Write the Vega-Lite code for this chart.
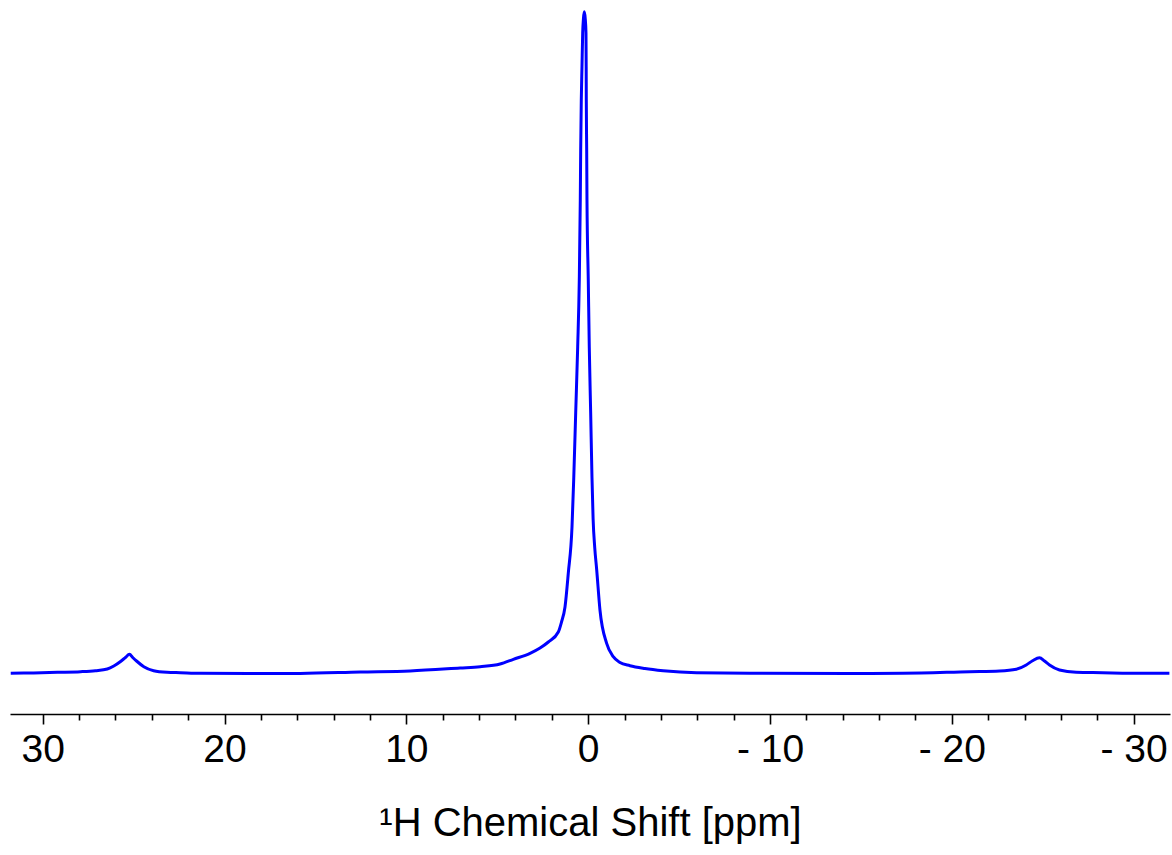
{
  "$schema": "https://vega.github.io/schema/vega-lite/v6.json",
  "width": 1160,
  "height": 704,
  "autosize": {"type": "none"},
  "padding": {"left": 10, "top": 10, "right": 2, "bottom": 141},
  "background": "white",
  "config": {"view": {"stroke": null}},
  "data": {
    "values": [
      {"ppm": 31.76, "I": 0.2}, {"ppm": 30.5, "I": 0.6}, {"ppm": 29.19, "I": 1.2},
      {"ppm": 27.92, "I": 1.8}, {"ppm": 27.1, "I": 2.8}, {"ppm": 26.45, "I": 4.5},
      {"ppm": 26.09, "I": 7.5}, {"ppm": 25.72, "I": 12}, {"ppm": 25.45, "I": 16},
      {"ppm": 25.23, "I": 19.2}, {"ppm": 25.05, "I": 16}, {"ppm": 24.84, "I": 12.5},
      {"ppm": 24.44, "I": 6.8}, {"ppm": 23.9, "I": 2.8}, {"ppm": 23.16, "I": 1.2},
      {"ppm": 22.43, "I": 0.8}, {"ppm": 21.33, "I": 0.2}, {"ppm": 18.58, "I": 0},
      {"ppm": 15.83, "I": 0.1}, {"ppm": 12.538, "I": 1.5}, {"ppm": 9.791, "I": 2.5},
      {"ppm": 7.044, "I": 5.5}, {"ppm": 5.945, "I": 6.8}, {"ppm": 4.846, "I": 9.5},
      {"ppm": 4.115, "I": 14.2}, {"ppm": 3.198, "I": 20.2}, {"ppm": 2.648, "I": 25.5},
      {"ppm": 2.192, "I": 31.5}, {"ppm": 1.643, "I": 41.5}, {"ppm": 1.467, "I": 51.5},
      {"ppm": 1.275, "I": 66.5}, {"ppm": 1.093, "I": 100.5}, {"ppm": 0.89, "I": 146.5},
      {"ppm": 0.797, "I": 193.5}, {"ppm": 0.687, "I": 260.5}, {"ppm": 0.577, "I": 326.8},
      {"ppm": 0.489, "I": 393.5}, {"ppm": 0.434, "I": 473.5}, {"ppm": 0.412, "I": 523.5},
      {"ppm": 0.379, "I": 573.5}, {"ppm": 0.341, "I": 606.8}, {"ppm": 0.302, "I": 640.5},
      {"ppm": 0.258, "I": 655.5}, {"ppm": 0.214, "I": 661.8}, {"ppm": 0.165, "I": 655.5},
      {"ppm": 0.121, "I": 640.5}, {"ppm": 0.11, "I": 606.8}, {"ppm": 0.104, "I": 573.5},
      {"ppm": 0.082, "I": 523.5}, {"ppm": 0.066, "I": 473.5}, {"ppm": -0.005, "I": 393.5},
      {"ppm": -0.06, "I": 326.8}, {"ppm": -0.137, "I": 260.5}, {"ppm": -0.209, "I": 196},
      {"ppm": -0.27, "I": 155}, {"ppm": -0.36, "I": 126}, {"ppm": -0.467, "I": 104},
      {"ppm": -0.648, "I": 63.5},
      {"ppm": -1.016, "I": 30.2}, {"ppm": -1.379, "I": 16.8}, {"ppm": -1.747, "I": 11},
      {"ppm": -2.297, "I": 7.8}, {"ppm": -3.121, "I": 5}, {"ppm": -4.126, "I": 2.8},
      {"ppm": -5.962, "I": 0.8}, {"ppm": -8.89, "I": 0.3}, {"ppm": -14.385, "I": 0},
      {"ppm": -17.297, "I": 0.2}, {"ppm": -20.978, "I": 1.8}, {"ppm": -22.626, "I": 2.5},
      {"ppm": -23.544, "I": 4.2}, {"ppm": -24.093, "I": 8.5}, {"ppm": -24.44, "I": 12.8},
      {"ppm": -24.824, "I": 15.8}, {"ppm": -25.099, "I": 12.5}, {"ppm": -25.374, "I": 8.5},
      {"ppm": -25.923, "I": 3.5}, {"ppm": -26.841, "I": 1.2}, {"ppm": -28.286, "I": 0.8},
      {"ppm": -29.769, "I": 0.3}, {"ppm": -31.967, "I": 0.2}
    ]
  },
  "mark": {"type": "line", "color": "#0000FF", "strokeWidth": 3, "strokeJoin": "round", "interpolate": "monotone", "clip": true},
  "encoding": {
    "x": {
      "field": "ppm",
      "type": "quantitative",
      "scale": {"domain": [-32, 31.8], "reverse": true, "nice": false, "zero": false},
      "axis": {
        "title": "¹H Chemical Shift [ppm]",
        "values": [-30, -28, -26, -24, -22, -20, -18, -16, -14, -12, -10, -8, -6, -4, -2, 0, 2, 4, 6, 8, 10, 12, 14, 16, 18, 20, 22, 24, 26, 28, 30],
        "labelExpr": "datum.value % 10 === 0 ? (datum.value < 0 ? '- ' + abs(datum.value) : '' + datum.value) : ''",
        "tickSize": {"condition": {"test": "datum.value % 10 === 0", "value": 10}, "value": 6},
        "grid": false,
        "domainColor": "black",
        "domainWidth": 1.6,
        "tickColor": "black",
        "tickWidth": 1.6,
        "labelFont": "Liberation Sans",
        "labelFontSize": 39,
        "labelColor": "black",
        "labelPadding": 6,
        "labelFlush": false,
        "labelOverlap": false,
        "titleFont": "Liberation Sans",
        "titleFontSize": 40,
        "titleFontWeight": "normal",
        "titleColor": "black",
        "titlePadding": 34
      }
    },
    "y": {
      "field": "I",
      "type": "quantitative",
      "scale": {"domain": [-40.5, 663.5], "nice": false, "zero": false},
      "axis": null
    }
  }
}
